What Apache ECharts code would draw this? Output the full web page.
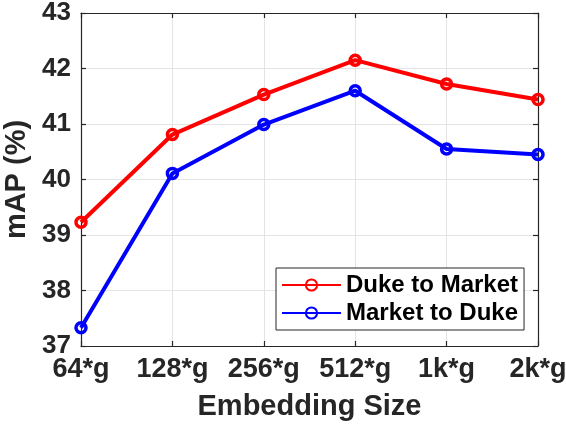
<!DOCTYPE html>
<html>
<head>
<meta charset="utf-8">
<script src="https://cdn.jsdelivr.net/npm/echarts@6/dist/echarts.min.js"></script>
<style>
  html, body { margin: 0; padding: 0; background: #fff; }
  #chart { width: 566px; height: 429px; }
</style>
</head>
<body>
<div id="chart"></div>
<script>
// Embedding sizes on the x axis
const categories = ['64*g', '128*g', '256*g', '512*g', '1k*g', '2k*g'];
// mAP (%) for each transfer direction
const dukeToMarket = [39.23, 40.81, 41.53, 42.15, 41.72, 41.44];
const marketToDuke = [37.33, 40.11, 40.99, 41.60, 40.55, 40.45];
const yTicks = [37, 38, 39, 40, 41, 42, 43];

const textColor = '#262626';
const fontFam = 'Liberation Sans, Arial, sans-serif';

const chart = echarts.init(document.getElementById('chart'), null, { renderer: 'canvas' });

const axisLine = { show: true, lineStyle: { color: '#262626', width: 1.2 } };
const axisTick = { show: true, inside: true, length: 5, lineStyle: { color: '#262626', width: 1.2 } };
const gridLine = { show: true, lineStyle: { color: '#e4e4e4', width: 1 } };

function lineSeries(name, values, color) {
  return {
    name: name,
    type: 'line',
    data: values,
    symbol: 'circle',
    symbolSize: 10,
    lineStyle: { color: color, width: 4 },
    itemStyle: { color: 'transparent', borderColor: color, borderWidth: 3.5 },
    z: 3
  };
}

chart.setOption({
  animation: false,
  backgroundColor: '#fff',
  grid: { left: 81, right: 28, top: 13, bottom: 83, containLabel: false, outerBoundsMode: 'none' },
  legend: {
    left: 276, top: 268,
    orient: 'vertical',
    itemWidth: 59, itemHeight: 14, itemGap: 4,
    padding: [5, 6, 5, 5],
    borderColor: '#262626', borderWidth: 1,
    backgroundColor: '#fff',
    textStyle: { fontFamily: fontFam, fontWeight: 'bold', fontSize: 24, color: '#000', lineHeight: 24 },
    data: ['Duke to Market', 'Market to Duke']
  },
  xAxis: [{
    type: 'category',
    data: categories,
    boundaryGap: false,
    axisLine: axisLine,
    axisTick: Object.assign({ interval: 0 }, axisTick),
    axisLabel: { interval: 0, hideOverlap: false, fontFamily: fontFam, fontWeight: 'bold', fontSize: 27, color: textColor, margin: 10 },
    splitLine: Object.assign({ interval: 0 }, gridLine),
    name: 'Embedding Size',
    nameLocation: 'middle',
    nameGap: 46,
    nameTextStyle: { fontFamily: fontFam, fontWeight: 'bold', fontSize: 29, color: textColor }
  }, {
    type: 'category',
    data: categories,
    boundaryGap: false,
    position: 'top',
    axisLine: axisLine,
    axisTick: Object.assign({ interval: 0 }, axisTick),
    axisLabel: { show: false },
    splitLine: { show: false }
  }],
  yAxis: [{
    type: 'value',
    min: yTicks[0], max: yTicks[yTicks.length - 1], interval: 1,
    axisLine: axisLine,
    axisTick: axisTick,
    axisLabel: { fontFamily: fontFam, fontWeight: 'bold', fontSize: 26, color: textColor, margin: 10 },
    splitLine: gridLine,
    name: 'mAP (%)',
    nameLocation: 'middle',
    nameGap: 46,
    nameTextStyle: { fontFamily: fontFam, fontWeight: 'bold', fontSize: 29, color: textColor }
  }, {
    type: 'value',
    min: yTicks[0], max: yTicks[yTicks.length - 1], interval: 1,
    position: 'right',
    axisLine: axisLine,
    axisTick: axisTick,
    axisLabel: { show: false },
    splitLine: { show: false }
  }],
  series: [
    lineSeries('Duke to Market', dukeToMarket, '#ff0000'),
    lineSeries('Market to Duke', marketToDuke, '#0000ff')
  ]
});
</script>
</body>
</html>
